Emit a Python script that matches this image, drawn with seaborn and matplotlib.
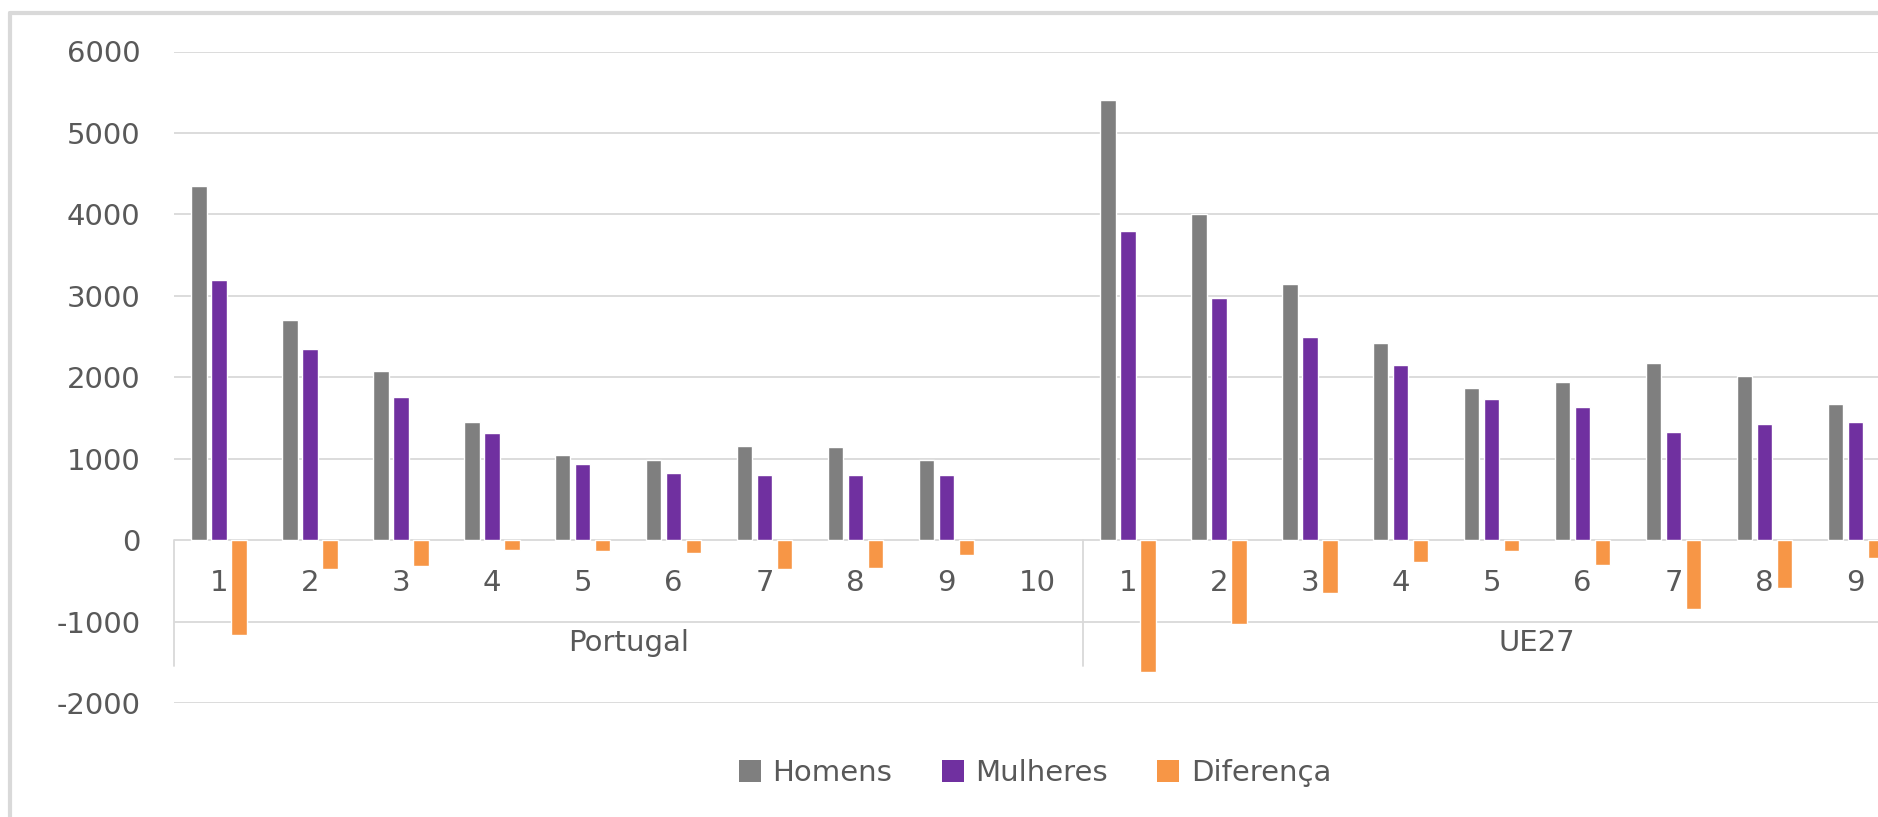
import matplotlib
matplotlib.use("Agg")
import matplotlib.pyplot as plt
from matplotlib.lines import Line2D
from matplotlib.patches import Patch
import seaborn as sns
import pandas as pd
import numpy as np

# ---- data ----
grupos = ["Portugal", "UE27"]
categorias = ["1", "2", "3", "4", "5", "6", "7", "8", "9", "10"]
series = ["Homens", "Mulheres", "Diferença"]

portugal_homens = [4350, 2700, 2080, 1450, 1050, 990, 1150, 1140, 990, np.nan]
portugal_mulheres = [3200, 2350, 1760, 1320, 930, 820, 800, 800, 800, np.nan]
portugal_diferenca = [-1160, -360, -320, -120, -130, -160, -350, -340, -180, np.nan]

ue27_homens = [5400, 4010, 3140, 2420, 1865, 1940, 2180, 2010, 1675, np.nan]
ue27_mulheres = [3800, 2970, 2490, 2150, 1735, 1630, 1325, 1420, 1445, np.nan]
ue27_diferenca = [-1620, -1030, -655, -265, -132, -305, -850, -592, -224, np.nan]

cores = ["#7f7f7f", "#7030a0", "#f79646"]
texto = "#595959"
grade = "#d9d9d9"

# ---- long table ----
valores = {
    "Portugal": [portugal_homens, portugal_mulheres, portugal_diferenca],
    "UE27": [ue27_homens, ue27_mulheres, ue27_diferenca],
}
rows = []
ordem = []
for g in grupos:
    for c in categorias:
        ordem.append(f"{g} {c}")
for g in grupos:
    for s, vals in zip(series, valores[g]):
        for c, v in zip(categorias, vals):
            rows.append({"cat": f"{g} {c}", "serie": s, "valor": v})
df = pd.DataFrame(rows).dropna()

# ---- figure ----
W, H = 1878, 817
fig = plt.figure(figsize=(W / 100, H / 100), dpi=100)
sns.set_style("white")
plt.rcParams["font.family"] = ["DejaVu Sans"]
FS = 21

ax_left = 173.7 / W
ax_bottom = 1 - 703 / H
ax_height = (703 - 51.5) / H
ax = fig.add_axes([ax_left, ax_bottom, 1 - ax_left, ax_height])

sns.barplot(data=df, x="cat", y="valor", hue="serie", order=ordem,
            hue_order=series, palette=cores, width=0.66, gap=0.23,
            saturation=1, legend=False, ax=ax, zorder=3)

XMAX = 18.25
ax.set_ylim(-2000, 6000)
ax.set_xlim(-0.5, XMAX)
ax.set_yticks(np.arange(-2000, 6001, 1000))
ax.set_yticklabels([f"{int(v)}" for v in np.arange(-2000, 6001, 1000)])
ax.yaxis.grid(True, color=grade, linewidth=1.3, zorder=0)
ax.set_axisbelow(True)
ax.tick_params(axis="y", length=0, pad=24, labelsize=FS, labelcolor=texto)
ax.tick_params(axis="x", bottom=False, labelbottom=False)
ax.set_xlabel("")
ax.set_ylabel("")
for sp in ax.spines.values():
    sp.set_visible(False)

# category labels and group labels
n = len(categorias)
for gi, g in enumerate(grupos):
    for ci, c in enumerate(categorias):
        pos = gi * n + ci
        if pos < XMAX:
            ax.text(pos, -528, c, ha="center", va="center",
                    fontsize=FS, color=texto, zorder=4)
    ax.text(gi * n + (n - 1) / 2, -1265, g, ha="center", va="center",
            fontsize=FS, color=texto, zorder=4)
    ax.plot([gi * n - 0.5, gi * n - 0.5], [0, -1540], color=grade,
            linewidth=1.3, zorder=1, clip_on=False)

# legend
handles = [Patch(facecolor=c, edgecolor="none") for c in cores]
fig.legend(handles, series, loc="center", bbox_to_anchor=(1035 / W, 1 - 773 / H),
           ncol=3, frameon=False, fontsize=FS, labelcolor=texto,
           handlelength=0.75, handleheight=0.75, handletextpad=0.4,
           columnspacing=1.7)

# chart border (left and top edges visible)
fig.add_artist(Line2D([10 / W, 10 / W], [0, 1 - 13 / H], color=grade,
                      linewidth=3, transform=fig.transFigure))
fig.add_artist(Line2D([10 / W, 1], [1 - 13 / H, 1 - 13 / H], color=grade,
                      linewidth=3, transform=fig.transFigure))

fig.savefig("out.png", dpi=100, facecolor="white")
